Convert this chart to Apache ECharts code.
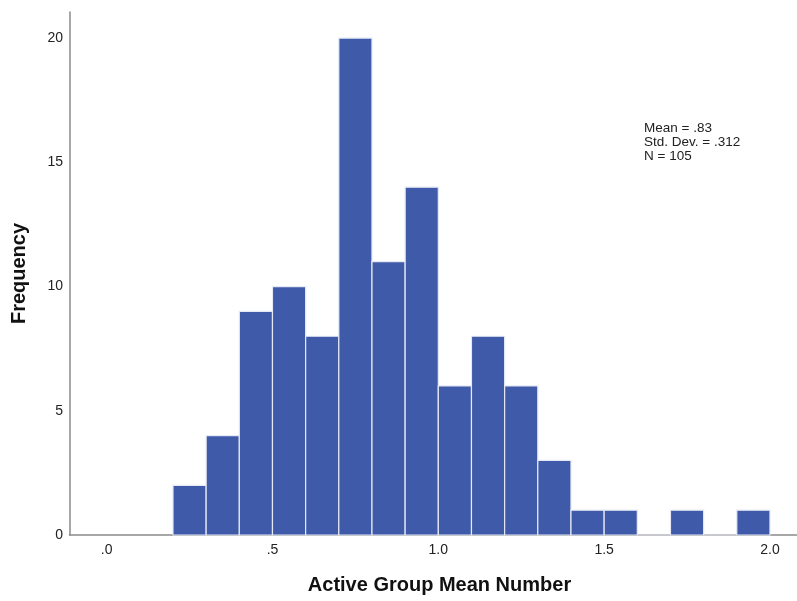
<!DOCTYPE html>
<html>
<head>
<meta charset="utf-8">
<script src="https://cdn.jsdelivr.net/npm/echarts@6/dist/echarts.min.js"></script>
<style>html,body{margin:0;padding:0;background:#fff;}#chart{width:797px;height:601px;}</style>
</head>
<body>
<div id="chart"></div>
<script>
var binStarts = [0.2, 0.3, 0.4, 0.5, 0.6, 0.7, 0.8, 0.9, 1.0, 1.1, 1.2, 1.3, 1.4, 1.5, 1.6, 1.7, 1.8, 1.9];
var counts    = [2,   4,   9,   10,  8,   20,  11,  14,  6,   8,   6,   3,   1,   1,   0,   1,   0,   1];
var binWidth = 0.1;
var xTickValues = [0, 0.5, 1.0, 1.5, 2.0];
var xTickLabels = ['.0', '.5', '1.0', '1.5', '2.0'];
var yTickValues = [0, 5, 10, 15, 20];
var statsLines = ['Mean = .83', 'Std. Dev. = .312', 'N = 105'];
var xTitle = 'Active Group Mean Number';
var yTitle = 'Frequency';

var barData = binStarts.map(function (s, i) { return [s, s + binWidth, counts[i]]; });

var chart = echarts.init(document.getElementById('chart'), null, {renderer: 'canvas'});
var font = 'Liberation Sans, Arial, sans-serif';
chart.setOption({
  animation: false,
  backgroundColor: '#ffffff',
  grid: {left: 69.5, top: 12, width: 728, height: 523, outerBoundsMode: 'none'},
  xAxis: {
    type: 'value', min: -0.112, max: 2.083,
    axisLine: {show: true, onZero: false, lineStyle: {color: '#8a8a8a', width: 1.5}},
    axisTick: {show: false},
    splitLine: {show: false},
    axisLabel: {
      customValues: xTickValues,
      color: '#222', fontFamily: font, fontSize: 14, margin: 8,
      formatter: function (v) {
        var i = xTickValues.indexOf(v);
        return i >= 0 ? xTickLabels[i] : '';
      }
    },
    name: xTitle, nameLocation: 'middle', nameGap: 40,
    nameTextStyle: {fontFamily: font, fontSize: 20, fontWeight: 'bold', color: '#111', padding: [0, 0, 0, 12]}
  },
  yAxis: {
    type: 'value', min: 0, max: 21.05,
    axisLine: {show: true, onZero: false, lineStyle: {color: '#8a8a8a', width: 1.5}},
    axisTick: {show: false},
    splitLine: {show: false},
    axisLabel: {
      customValues: yTickValues,
      color: '#222', fontFamily: font, fontSize: 14, margin: 6.5
    },
    name: yTitle, nameLocation: 'middle', nameGap: 40, nameRotate: 90,
    nameTextStyle: {fontFamily: font, fontSize: 20, fontWeight: 'bold', color: '#111', padding: [0, 0, 0, 0]}
  },
  graphic: statsLines.map(function (t, i) {
    return {type: 'text', x: 644, y: 128 + i * 14.3,
      style: {text: t, font: '13.5px ' + font, fill: '#222', textVerticalAlign: 'middle'}};
  }),
  series: [{
    type: 'custom',
    data: barData,
    encode: {x: [0, 1], y: 2},
    renderItem: function (params, api) {
      var p0 = api.coord([api.value(0), api.value(2)]);
      var p1 = api.coord([api.value(1), 0]);
      return {
        type: 'rect',
        shape: {x: p0[0], y: p0[1], width: p1[0] - p0[0], height: p1[1] - p0[1]},
        style: {fill: '#3e5aa8', stroke: '#e6e9f5', lineWidth: 1.2}
      };
    }
  }]
});
</script>
</body>
</html>
